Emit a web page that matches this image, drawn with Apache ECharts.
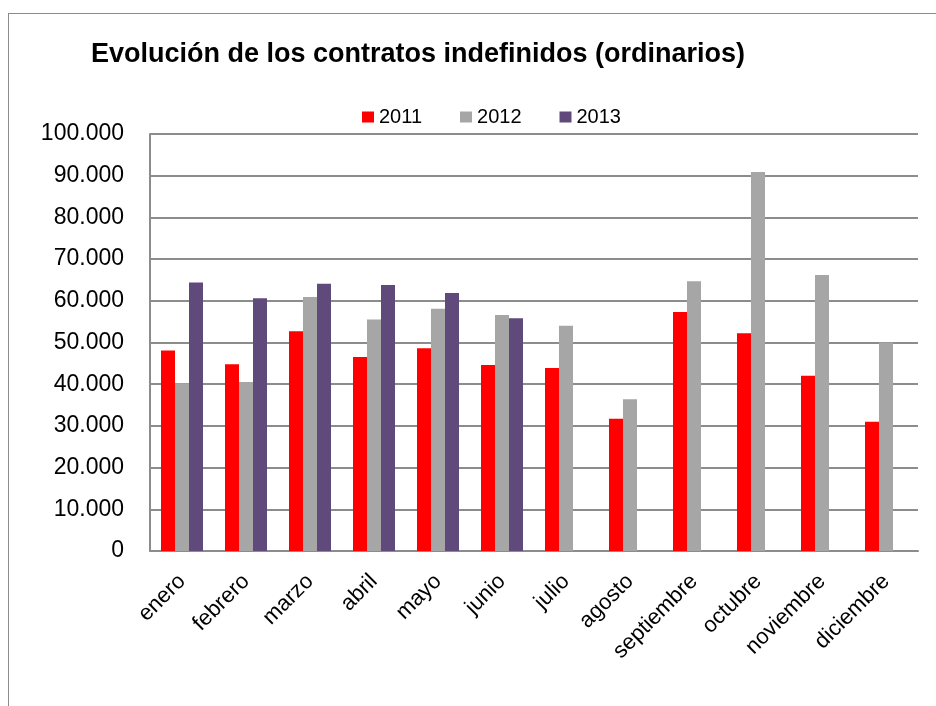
<!DOCTYPE html>
<html>
<head>
<meta charset="utf-8">
<script src="https://cdn.jsdelivr.net/npm/echarts@6/dist/echarts.min.js"></script>
<style>
  html, body { margin: 0; padding: 0; background: #fff; }
  #frame { position: absolute; left: 8px; top: 13px; width: 940px; height: 700px; border: 1px solid #8c8c8c; box-sizing: border-box; }
  #chart { width: 936px; height: 706px; }
</style>
</head>
<body>
<div id="frame"></div>
<div id="chart"></div>
<script>
// meses
const months = ['enero', 'febrero', 'marzo', 'abril', 'mayo', 'junio', 'julio',
  'agosto', 'septiembre', 'octubre', 'noviembre', 'diciembre']

// contratos por año
const data2011 = [48100, 44800, 52700, 46500, 48600, 44600, 43900, 31700, 57300, 52200, 42000, 31000]
const data2012 = [40200, 40500, 60900, 55500, 58100, 56600, 54000, 36400, 64700, 90900, 66200, 50000]
const data2013 = [64400, 60600, 64100, 63800, 61900, 55800, null, null, null, null, null, null]

const COLORS = ['#ff0000', '#a6a6a6', '#604a7b']
const FONT = 'Liberation Sans'

const fmt = (v) => v === 0 ? '0' : v.toLocaleString('de-DE')

const chart = echarts.init(document.getElementById('chart'))

const bar = (name, data, color) => ({
  name,
  type: 'bar',
  data,
  barWidth: 14,
  barGap: '0%',
  itemStyle: { color },
  animation: false
})

chart.setOption({
  animation: false,
  title: {
    text: 'Evolución de los contratos indefinidos (ordinarios)',
    left: 86,
    top: 36,
    textStyle: { fontFamily: FONT, fontSize: 27, fontWeight: 'bold', color: '#000' }
  },
  legend: {
    top: 102,
    left: 357,
    itemWidth: 12,
    itemHeight: 11,
    itemGap: 38,
    icon: 'rect',
    textStyle: { fontFamily: FONT, fontSize: 20, color: '#000' },
    data: ['2011', '2012', '2013']
  },
  grid: { left: 150, right: 18, top: 134, bottom: 155, containLabel: false },
  xAxis: {
    type: 'category',
    data: months,
    axisLine: { lineStyle: { color: '#8c8c8c', width: 2 } },
    axisTick: { show: false },
    axisLabel: {
      rotate: 45,
      margin: 27,
      fontFamily: FONT,
      fontSize: 22,
      color: '#000'
    }
  },
  yAxis: {
    type: 'value',
    min: 0,
    max: 100000,
    interval: 10000,
    axisLine: { show: true, lineStyle: { color: '#8c8c8c', width: 2 } },
    axisTick: { show: false },
    splitLine: { lineStyle: { color: '#8c8c8c', width: 2 } },
    axisLabel: {
      fontFamily: FONT,
      fontSize: 23,
      color: '#000',
      margin: 26,
      formatter: fmt
    }
  },
  series: [
    bar('2011', data2011, COLORS[0]),
    bar('2012', data2012, COLORS[1]),
    bar('2013', data2013, COLORS[2])
  ]
})
</script>
</body>
</html>
